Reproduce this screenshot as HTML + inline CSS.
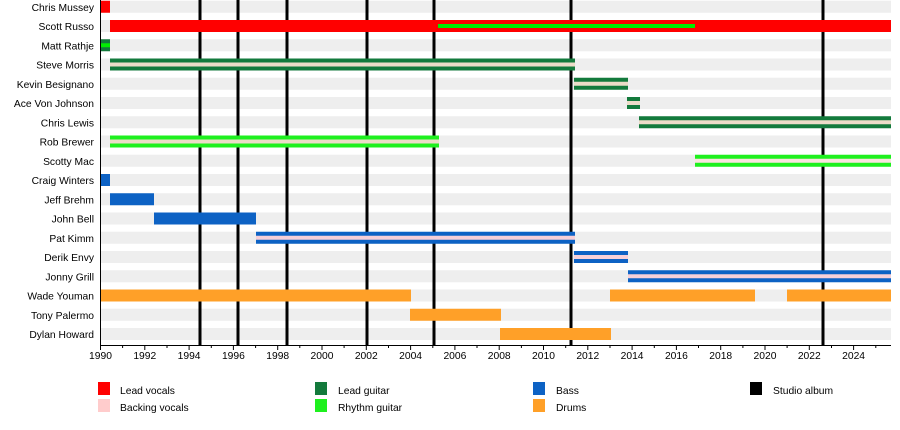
<!DOCTYPE html>
<html><head><meta charset="utf-8"><style>
html,body{margin:0;padding:0;background:#fff}
svg{display:block;font-family:"Liberation Sans",sans-serif}
</style></head><body>
<svg width="900" height="430" viewBox="0 0 900 430" xmlns="http://www.w3.org/2000/svg">
<g fill="#eeeeee">
<rect x="100" y="0.75" width="791" height="12"/><rect x="100" y="20" width="791" height="12"/><rect x="100" y="39.25" width="791" height="12"/><rect x="100" y="58.5" width="791" height="12"/><rect x="100" y="77.75" width="791" height="12"/><rect x="100" y="97" width="791" height="12"/><rect x="100" y="116.25" width="791" height="12"/><rect x="100" y="135.5" width="791" height="12"/><rect x="100" y="154.75" width="791" height="12"/><rect x="100" y="174" width="791" height="12"/><rect x="100" y="193.25" width="791" height="12"/><rect x="100" y="212.5" width="791" height="12"/><rect x="100" y="231.75" width="791" height="12"/><rect x="100" y="251" width="791" height="12"/><rect x="100" y="270.25" width="791" height="12"/><rect x="100" y="289.5" width="791" height="12"/><rect x="100" y="308.75" width="791" height="12"/><rect x="100" y="328" width="791" height="12"/>
</g>
<g stroke="#000" stroke-width="3">
<line x1="200" y1="0" x2="200" y2="345"/><line x1="238" y1="0" x2="238" y2="345"/><line x1="287" y1="0" x2="287" y2="345"/><line x1="367" y1="0" x2="367" y2="345"/><line x1="434" y1="0" x2="434" y2="345"/><line x1="571" y1="0" x2="571" y2="345"/><line x1="823" y1="0" x2="823" y2="345"/>
</g>
<rect x="100" y="0.75" width="10" height="12" fill="#ff0000"/>
<rect x="110" y="20" width="781" height="12" fill="#ff0000"/>
<rect x="438" y="24" width="257" height="4" fill="#00ee00"/>
<rect x="100" y="39.25" width="10" height="12" fill="#137a3c"/><rect x="100" y="43.25" width="10" height="4" fill="#00ee00"/>
<g fill="#137a3c">
<rect x="110" y="58.5" width="465" height="12"/>
<rect x="574" y="77.75" width="54" height="12"/>
<rect x="627" y="97" width="13" height="12"/>
<rect x="639" y="116.25" width="252" height="12"/>
</g>
<g fill="#ecdcc8">
<rect x="110" y="62.5" width="465" height="4"/>
<rect x="574" y="81.75" width="54" height="4"/>
<rect x="627" y="101" width="13" height="4"/>
<rect x="639" y="120.25" width="252" height="4"/>
</g>
<rect x="110" y="135.5" width="329" height="12" fill="#1ef01e"/><rect x="110" y="139.5" width="329" height="4" fill="#ecdcc8"/>
<rect x="695" y="154.75" width="196" height="12" fill="#1ef01e"/><rect x="695" y="158.75" width="196" height="4" fill="#fbe3e0"/>
<g fill="#0d62c4">
<rect x="100" y="174" width="10" height="12"/>
<rect x="110" y="193.25" width="44" height="12"/>
<rect x="154" y="212.5" width="102" height="12"/>
<rect x="256" y="231.75" width="319" height="12"/>
<rect x="574" y="251" width="54" height="12"/>
<rect x="628" y="270.25" width="263" height="12"/>
</g>
<g fill="#f7d0d8">
<rect x="256" y="235.75" width="319" height="4"/>
<rect x="574" y="255" width="54" height="4"/>
<rect x="628" y="274.25" width="263" height="4"/>
</g>
<g fill="#ffa028">
<rect x="100" y="289.5" width="311" height="12"/>
<rect x="610" y="289.5" width="145" height="12"/>
<rect x="787" y="289.5" width="104" height="12"/>
<rect x="410" y="308.75" width="91" height="12"/>
<rect x="500" y="328" width="111" height="12"/>
</g>
<g font-size="10.3" fill="#000" text-anchor="end">
<text x="94" y="10.75">Chris Mussey</text><text x="94" y="30">Scott Russo</text><text x="94" y="49.25">Matt Rathje</text><text x="94" y="68.5">Steve Morris</text><text x="94" y="87.75">Kevin Besignano</text><text x="94" y="107">Ace Von Johnson</text><text x="94" y="126.25">Chris Lewis</text><text x="94" y="145.5">Rob Brewer</text><text x="94" y="164.75">Scotty Mac</text><text x="94" y="184">Craig Winters</text><text x="94" y="203.25">Jeff Brehm</text><text x="94" y="222.5">John Bell</text><text x="94" y="241.75">Pat Kimm</text><text x="94" y="261">Derik Envy</text><text x="94" y="280.25">Jonny Grill</text><text x="94" y="299.5">Wade Youman</text><text x="94" y="318.75">Tony Palermo</text><text x="94" y="338">Dylan Howard</text>
</g>
<line x1="100.5" y1="0" x2="100.5" y2="346" stroke="#000" stroke-width="1"/>
<line x1="100" y1="345.5" x2="891" y2="345.5" stroke="#000" stroke-width="1"/>
<g stroke="#000" stroke-width="1">
<path d="M100.5 345v5M122.6 345v3M144.8 345v5M167 345v3M189.1 345v5M211.3 345v3M233.4 345v5M255.6 345v3M277.7 345v5M299.8 345v3M322 345v5M344.1 345v3M366.3 345v5M388.5 345v3M410.6 345v5M432.8 345v3M454.9 345v5M477 345v3M499.2 345v5M521.4 345v3M543.5 345v5M565.7 345v3M587.8 345v5M610 345v3M632.1 345v5M654.3 345v3M676.4 345v5M698.5 345v3M720.7 345v5M742.9 345v3M765 345v5M787.1 345v3M809.3 345v5M831.5 345v3M853.6 345v5M875.8 345v3"/>
</g>
<g font-size="10.3" fill="#000" text-anchor="middle">
<text x="100.5" y="359">1990</text><text x="144.8" y="359">1992</text><text x="189.1" y="359">1994</text><text x="233.4" y="359">1996</text><text x="277.7" y="359">1998</text><text x="322" y="359">2000</text><text x="366.3" y="359">2002</text><text x="410.6" y="359">2004</text><text x="454.9" y="359">2006</text><text x="499.2" y="359">2008</text><text x="543.5" y="359">2010</text><text x="587.8" y="359">2012</text><text x="632.1" y="359">2014</text><text x="676.4" y="359">2016</text><text x="720.7" y="359">2018</text><text x="765" y="359">2020</text><text x="809.3" y="359">2022</text><text x="853.6" y="359">2024</text>
</g>
<rect x="98" y="382" width="12" height="13" fill="#ff0000"/>
<rect x="98" y="399" width="12" height="13" fill="#ffcccc"/>
<rect x="315" y="382" width="12" height="13" fill="#137a3c"/>
<rect x="315" y="399" width="12" height="13" fill="#1ef01e"/>
<rect x="533" y="382" width="12" height="13" fill="#0d62c4"/>
<rect x="533" y="399" width="12" height="13" fill="#ffa028"/>
<rect x="750" y="382" width="12" height="13" fill="#000"/>
<g font-size="10.3" fill="#000">
<text x="120" y="394">Lead vocals</text><text x="120" y="411">Backing vocals</text>
<text x="338" y="394">Lead guitar</text><text x="338" y="411">Rhythm guitar</text>
<text x="556" y="394">Bass</text><text x="556" y="411">Drums</text>
<text x="773" y="394">Studio album</text>
</g>
</svg>
</body></html>
